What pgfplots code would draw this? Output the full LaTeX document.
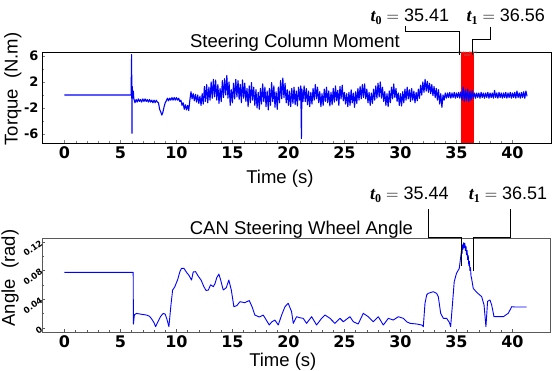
\documentclass[border=0pt]{standalone}
\usepackage{amsmath}
\usepackage{pgfplots}
\usepackage{pgfplotstable}
\pgfplotsset{compat=1.18}
\usepackage{fontspec}
\setmainfont{Liberation Sans}
\newfontfamily\tickfont{DejaVu Sans}
\newfontfamily\serifb{Liberation Serif}
\newcommand{\tsub}[1]{{\serifb\bfseries\itshape t}\raisebox{-0.35ex}{\serifb\bfseries\fontsize{12}{12}\selectfont #1}}

\pgfplotstableread[row sep=\\]{t y\\
0 0\\ 5.95 0\\ 6.0 6.2\\ 6.03 -5.9\\ 6.06 1.3\\ 6.1 -0.5\\ 6.15 0.6\\
6.2 -0.6\\ 6.3 -1.2\\ 6.4 -0.7\\ 6.5 -1.1\\ 6.6 -0.6\\ 6.7 -1.0\\ 6.8 -0.7\\ 6.9 -1.1\\ 7.0 -0.6\\ 7.1 -1.0\\
7.2 -0.6\\ 7.3 -1.0\\ 7.4 -0.7\\ 7.5 -1.1\\ 7.6 -0.7\\ 7.7 -1.1\\ 7.8 -0.8\\ 7.9 -1.2\\ 8.0 -0.8\\ 8.1 -1.2\\
8.2 -0.8\\ 8.3 -1.1\\ 8.4 -1.2\\ 8.5 -2.2\\ 8.6 -2.6\\ 8.7 -3.1\\ 8.8 -2.6\\ 8.9 -1.8\\ 9.0 -1.2\\ 9.1 -0.9\\
9.2 -0.5\\ 9.3 -0.9\\ 9.4 -0.5\\ 9.5 -0.8\\ 9.6 -0.4\\ 9.7 -0.8\\ 9.8 -0.4\\ 9.9 -0.8\\ 10.0 -0.4\\ 10.1 -0.8\\
10.2 -0.5\\ 10.3 -1.0\\ 10.4 -0.8\\ 10.5 -1.6\\ 10.6 -1.2\\ 10.7 -2.2\\ 10.8 -1.5\\ 10.9 -2.3\\ 11.0 -1.6\\ 11.1 -2.4\\
11.2 -0.8\\ 11.3 0.5\\ 11.4 -0.6\\ 11.5 0.2\\ 11.6 -0.9\\ 11.7 0.1\\ 11.8 -1.1\\ 11.9 0.0\\ 12.0 -1.3\\ 12.1 -0.2\\
12.2 -1.6\\ 12.3 0.2\\ 12.4 -1.4\\ 12.5 1.3\\ 12.6 -1.0\\ 12.7 1.6\\ 12.8 -1.2\\ 12.9 1.2\\ 13.0 -0.8\\ 13.1 2.0\\
13.2 -0.5\\ 13.3 2.4\\ 13.4 -0.3\\ 13.5 2.3\\ 13.6 -0.8\\ 13.7 1.6\\ 13.8 -1.3\\ 13.9 1.0\\ 14.0 -1.0\\ 14.1 2.2\\
14.2 -0.4\\ 14.3 2.5\\ 14.4 0.0\\ 14.5 3.0\\ 14.6 -0.5\\ 14.7 2.0\\ 14.8 -1.6\\ 14.9 0.8\\ 15.0 -1.2\\ 15.1 1.8\\
15.2 -0.6\\ 15.3 2.4\\ 15.4 -0.3\\ 15.5 2.2\\ 15.6 -0.7\\ 15.7 1.6\\ 15.8 -1.2\\ 15.9 2.3\\ 16.0 -0.5\\ 16.1 1.8\\
16.2 -1.0\\ 16.3 1.0\\ 16.4 -1.8\\ 16.5 1.4\\ 16.6 -1.2\\ 16.7 1.9\\ 16.8 -0.8\\ 16.9 1.2\\ 17.0 -1.6\\ 17.1 0.8\\
17.2 -2.0\\ 17.3 0.4\\ 17.4 -2.2\\ 17.5 1.0\\ 17.6 -1.4\\ 17.7 1.7\\ 17.8 -1.0\\ 17.9 1.2\\ 18.0 -1.8\\ 18.1 0.6\\
18.2 -2.3\\ 18.3 1.0\\ 18.4 -1.6\\ 18.5 1.9\\ 18.6 -1.0\\ 18.7 1.4\\ 18.8 -1.9\\ 18.9 0.5\\ 19.0 -2.2\\ 19.1 1.2\\
19.2 -1.2\\ 19.3 2.2\\ 19.4 -0.6\\ 19.5 2.6\\ 19.6 -0.4\\ 19.7 1.8\\ 19.8 -1.2\\ 19.9 0.8\\ 20.0 -1.6\\ 20.1 0.6\\
20.2 -1.8\\ 20.3 1.0\\ 20.4 -1.3\\ 20.5 1.2\\ 20.6 -1.5\\ 20.7 0.6\\ 20.8 -1.7\\ 20.9 1.2\\ 21.0 -0.8\\ 21.1 1.4\\
21.16 -6.7\\ 21.2 0.9\\ 21.3 -1.0\\ 21.4 1.4\\ 21.5 -1.0\\ 21.6 1.0\\ 21.7 -1.5\\ 21.8 0.6\\ 21.9 -1.8\\ 22.0 0.4\\
22.1 -1.4\\ 22.2 1.0\\ 22.3 -0.8\\ 22.4 1.6\\ 22.5 -0.6\\ 22.6 1.2\\ 22.7 -1.2\\ 22.8 0.5\\ 22.9 -1.8\\ 23.0 0.2\\
23.1 -1.6\\ 23.2 0.9\\ 23.3 -1.0\\ 23.4 1.2\\ 23.5 -1.2\\ 23.6 0.6\\ 23.7 -1.7\\ 23.8 0.4\\ 23.9 -1.5\\ 24.0 1.0\\
24.1 -1.1\\ 24.2 1.4\\ 24.3 -0.9\\ 24.4 0.7\\ 24.5 -1.6\\ 24.6 1.3\\ 24.7 -0.6\\ 24.8 1.5\\ 24.9 -0.9\\ 25.0 0.4\\
25.1 -1.4\\ 25.2 0.2\\ 25.3 -1.8\\ 25.4 0.4\\ 25.5 -1.6\\ 25.6 0.8\\ 25.7 -1.2\\ 25.8 0.3\\ 25.9 -1.9\\ 26.0 0.5\\
26.1 -1.3\\ 26.2 1.0\\ 26.3 -0.8\\ 26.4 1.3\\ 26.5 -0.6\\ 26.6 1.6\\ 26.7 -0.4\\ 26.8 1.7\\ 26.9 -0.6\\ 27.0 0.9\\
27.1 -1.2\\ 27.2 0.4\\ 27.3 -1.6\\ 27.4 0.3\\ 27.5 -1.3\\ 27.6 0.9\\ 27.7 -0.8\\ 27.8 1.4\\ 27.9 -0.5\\ 28.0 1.8\\
28.1 -0.3\\ 28.2 2.0\\ 28.3 -0.5\\ 28.4 1.2\\ 28.5 -1.0\\ 28.6 0.5\\ 28.7 -1.6\\ 28.8 0.2\\ 28.9 -1.8\\ 29.0 0.6\\
29.1 -1.2\\ 29.2 1.2\\ 29.3 -0.6\\ 29.4 1.7\\ 29.5 -0.4\\ 29.6 1.0\\ 29.7 -1.0\\ 29.8 0.3\\ 29.9 -1.6\\ 30.0 0.2\\
30.1 -1.7\\ 30.2 0.5\\ 30.3 -1.2\\ 30.4 0.9\\ 30.5 -0.8\\ 30.6 1.2\\ 30.7 -0.6\\ 30.8 0.8\\ 30.9 -1.0\\ 31.0 1.0\\
31.1 -0.8\\ 31.2 0.6\\ 31.3 -1.2\\ 31.4 0.4\\ 31.5 -0.9\\ 31.6 0.9\\ 31.7 -0.5\\ 31.8 1.5\\ 31.9 0.0\\ 32.0 2.0\\
32.1 0.4\\ 32.2 2.4\\ 32.3 0.6\\ 32.4 2.1\\ 32.5 0.4\\ 32.6 1.8\\ 32.7 0.2\\ 32.8 1.6\\ 32.9 -0.1\\ 33.0 1.3\\
33.1 -0.4\\ 33.2 1.0\\ 33.3 -0.8\\ 33.4 0.8\\ 33.5 -1.4\\ 33.6 0.2\\ 33.7 -1.9\\ 33.8 0.0\\ 33.9 -0.8\\ 34.0 0.3\\
34.1 -0.5\\ 34.2 0.3\\ 34.3 -0.4\\ 34.4 0.4\\ 34.5 -0.5\\ 34.6 0.3\\ 34.7 -0.4\\ 34.8 0.4\\ 34.9 -0.5\\ 35.0 0.3\\
35.1 -0.4\\ 35.2 0.4\\ 35.3 -0.5\\ 35.4 0.5\\ 35.5 -0.8\\ 35.6 1.2\\ 35.7 -1.0\\ 35.8 0.8\\ 35.9 -0.9\\ 36.0 0.9\\
36.1 -1.0\\ 36.2 0.6\\ 36.3 -0.8\\ 36.4 0.7\\ 36.5 -0.5\\ 36.6 0.3\\ 36.7 -0.5\\ 36.8 0.3\\ 36.9 -0.4\\ 37.0 0.3\\
37.1 -0.5\\ 37.2 0.4\\ 37.3 -0.4\\ 37.4 0.3\\ 37.5 -0.5\\ 37.6 0.3\\ 37.7 -0.4\\ 37.8 0.4\\ 37.9 -0.5\\ 38.0 0.3\\
38.1 -0.4\\ 38.2 0.3\\ 38.3 -0.5\\ 38.4 0.7\\ 38.5 -0.4\\ 38.6 0.3\\ 38.7 -0.5\\ 38.8 0.4\\ 38.9 -0.4\\ 39.0 0.3\\
39.1 -0.5\\ 39.2 0.3\\ 39.3 -0.4\\ 39.4 0.4\\ 39.5 -0.5\\ 39.6 0.3\\ 39.7 -0.4\\ 39.8 0.4\\ 39.9 -0.5\\ 40.0 0.3\\
40.1 -0.4\\ 40.2 0.4\\ 40.3 -0.5\\ 40.4 0.6\\ 40.5 -0.4\\ 40.6 0.3\\ 40.7 -0.5\\ 40.8 0.4\\ 40.9 -0.4\\ 41.0 0.5\\
41.1 -0.5\\ 41.2 0.6\\ 41.3 -0.2\\
}\torque

\pgfplotstableread[row sep=\\]{t y\\
0 0.0775\\ 6.14 0.0775\\ 6.16 0.005\\ 6.25 0.018\\ 6.44 0.020\\ 6.8 0.019\\ 7.33 0.0177\\ 7.6 0.016\\ 7.8 0.012\\
8.0 0.007\\ 8.14 0.0015\\ 8.4 0.010\\ 8.6 0.016\\ 8.82 0.020\\ 9.0 0.019\\ 9.15 0.012\\ 9.33 0.0015\\ 9.5 0.030\\
9.66 0.0527\\ 9.86 0.0574\\ 10.0 0.063\\ 10.1 0.0667\\ 10.31 0.0784\\ 10.45 0.083\\ 10.67 0.083\\ 10.9 0.0775\\
11.1 0.0737\\ 11.35 0.0667\\ 11.5 0.0780\\ 11.71 0.0784\\ 11.95 0.072\\ 12.2 0.0667\\ 12.45 0.0574\\ 12.65 0.052\\
12.85 0.0527\\ 13.05 0.060\\ 13.3 0.0574\\ 13.45 0.062\\ 13.6 0.070\\ 13.79 0.075\\ 13.95 0.0667\\ 14.18 0.0527\\
14.45 0.0560\\ 14.68 0.0667\\ 14.9 0.0527\\ 15.13 0.0294\\ 15.4 0.031\\ 15.67 0.0364\\ 16.1 0.035\\ 16.5 0.0380\\
16.75 0.0294\\ 17.0 0.0177\\ 17.4 0.015\\ 17.75 0.0177\\ 18.05 0.010\\ 18.29 0.0038\\ 18.5 0.008\\ 18.79 0.0107\\
19.09 0.0038\\ 19.4 0.018\\ 19.69 0.0294\\ 19.98 0.0341\\ 20.28 0.0225\\ 20.43 0.0061\\ 20.73 0.0154\\ 21.0 0.014\\
21.32 0.0131\\ 21.62 0.0061\\ 22.07 0.0154\\ 22.51 0.0038\\ 22.96 0.0131\\ 23.26 0.0178\\ 23.71 0.0131\\ 24.15 0.0061\\
24.6 0.0131\\ 24.9 0.0084\\ 25.49 0.0154\\ 25.79 0.0084\\ 26.23 0.0052\\ 26.68 0.0201\\ 27.13 0.0154\\ 27.57 0.0084\\
28.02 0.0154\\ 28.47 0.0038\\ 28.92 0.0131\\ 29.36 0.0107\\ 29.81 0.0154\\ 30.25 0.0131\\ 30.55 0.0084\\ 30.85 0.0061\\
31.44 0.0052\\ 31.89 0.0038\\ 32.04 0.0015\\ 32.19 0.0341\\ 32.34 0.0458\\ 32.48 0.0481\\ 32.93 0.0504\\ 33.23 0.0481\\
33.38 0.0434\\ 33.59 0.0201\\ 33.83 0.0131\\ 34.12 0.0131\\ 34.36 0.0075\\ 34.48 0.0015\\ 34.66 0.0364\\ 34.8 0.0644\\
35.0 0.0760\\ 35.25 0.0830\\ 35.4 0.1017\\ 35.45 0.108\\ 35.5 0.104\\ 35.55 0.116\\ 35.6 0.110\\ 35.65 0.119\\
35.7 0.112\\ 35.75 0.118\\ 35.8 0.108\\ 35.85 0.114\\ 35.9 0.102\\ 35.95 0.108\\ 36.0 0.095\\ 36.05 0.101\\
36.1 0.087\\ 36.15 0.093\\ 36.2 0.080\\ 36.25 0.084\\ 36.3 0.072\\ 36.35 0.069\\ 36.5 0.055\\ 36.8 0.0496\\
37.25 0.0434\\ 37.46 0.032\\ 37.63 0.0015\\ 37.78 0.037\\ 37.99 0.0388\\ 38.14 0.032\\ 38.35 0.0154\\ 39.18 0.0154\\
39.63 0.0202\\ 39.93 0.0294\\ 40.2 0.0290\\ 41.27 0.0290\\
}\angle

\begin{document}
\begin{tikzpicture}
\path[use as bounding box] (0,0) rectangle (552pt,371pt);
\pgfplotsset{
  common/.style={
    anchor=south west, scale only axis, clip=false,
    xmin=-2, xtick={0,5,...,40}, minor x tick num=4,
    tick align=inside, xtick pos=bottom, ytick pos=left,
    major tick length=3pt, minor tick length=2pt,
    /pgf/number format/assume math mode=true,
    xticklabel style={font=\tickfont\bfseries\fontsize{16}{16}\selectfont},
  }
}
% ---------- top axis ----------
\begin{axis}[common,
  at={(42pt,228pt)}, width=509pt, height=91pt,
  xmax=43.44, ymin=-7.38, ymax=6.6,
  ytick={-6,-2,2,6}, yticklabels={-6,-2,2,6}, minor ytick={-4,0,4},
  yticklabel style={font=\tickfont\bfseries\fontsize{13}{13}\selectfont},
  axis line style={black, line width=0.8pt},
]
\fill[red] (axis cs:35.41,-7.38) rectangle (axis cs:36.56,6.6);
\addplot[blue, line width=1.1pt, line join=round] table[x=t,y=y] {\torque};
\node[gray, font=\fontsize{3}{3}\selectfont, align=center] at (axis cs:35.98,6.25) {[35.41 , 36.56]\\89\%};
\draw[black, line width=0.9pt] (axis cs:30.49,10.6) -- (axis cs:30.49,9.69) -- (axis cs:35.31,9.69) -- (axis cs:35.31,6.15);
\draw[black, line width=0.9pt] (axis cs:38.0,10.46) -- (axis cs:38.0,8.46) -- (axis cs:36.47,8.46) -- (axis cs:36.47,6.15);
\node[font=\fontsize{18}{18}\selectfont] at (axis cs:30.85,12.0) {\tsub{0} $=$ 35.41};
\node[font=\fontsize{18}{18}\selectfont] at (axis cs:39.4,12.0) {\tsub{1} $=$ 36.56};
\node[anchor=base, font=\fontsize{18.5}{20}\selectfont] at (axis cs:20.58,7.23) {Steering Column Moment};
\node[anchor=base, font=\fontsize{18.5}{20}\selectfont] at (axis cs:19.24,-13.54) {Time (s)};
\node[rotate=90, inner sep=0pt, font=\fontsize{18.5}{20}\selectfont] at (axis cs:-4.6,0.92) {Torque\ \ (N.m)};
\end{axis}
% ---------- bottom axis ----------
\begin{axis}[common,
  at={(42pt,39pt)}, width=508pt, height=94pt,
  xmax=43.35, ymin=-0.006, ymax=0.1255,
  ytick={0,0.04,0.08,0.12}, yticklabels={0,0.04,0.08,0.12},
  minor ytick={0.02,0.06,0.10},
  yticklabel style={font=\tickfont\bfseries\fontsize{8.5}{8.5}\selectfont, rotate=35, anchor=east, inner sep=0.5pt},
  axis line style={black!65, line width=0.8pt},
  every tick/.style={black!65},
]
\addplot[blue, line width=0.9pt, line join=round] table[x=t,y=y] {\angle};
\draw[black, line width=0.9pt] (axis cs:32.54,0.166) -- (axis cs:32.54,0.1268) -- (axis cs:35.4,0.1268) -- (axis cs:35.4,0.0863);
\draw[black, line width=0.9pt] (axis cs:39.78,0.166) -- (axis cs:39.78,0.1268) -- (axis cs:36.56,0.1268) -- (axis cs:36.56,0.0793);
\node[font=\fontsize{18}{18}\selectfont] at (axis cs:30.8,0.1857) {\tsub{0} $=$ 35.44};
\node[font=\fontsize{18}{18}\selectfont] at (axis cs:39.6,0.1857) {\tsub{1} $=$ 36.51};
\node[anchor=base, font=\fontsize{18.5}{20}\selectfont] at (axis cs:21.16,0.1297) {CAN Steering Wheel Angle};
\node[anchor=base, font=\fontsize{18.5}{20}\selectfont] at (axis cs:19.5,-0.0536) {Time (s)};
\node[rotate=90, inner sep=0pt, font=\fontsize{18.5}{20}\selectfont] at (axis cs:-4.85,0.0695) {Angle\ \ (rad)};
\end{axis}
\end{tikzpicture}
\end{document}
